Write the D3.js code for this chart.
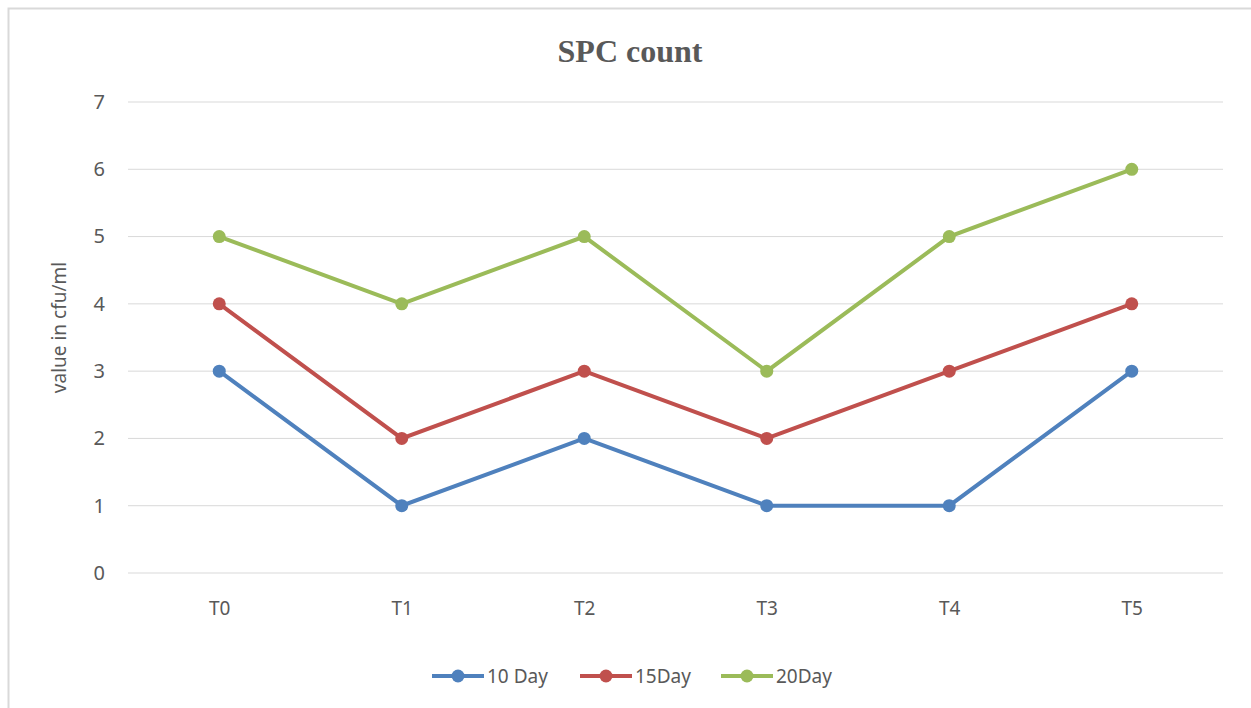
<!DOCTYPE html>
<html>
<head>
<meta charset="utf-8">
<script src="https://cdn.jsdelivr.net/npm/d3@7"></script>
<style>
  body { margin: 0; background: #fff; }
  text { font-family: "Noto Sans", "Open Sans", sans-serif; fill: #595959; }
</style>
</head>
<body>
<svg id="chart"></svg>
<script>
// chart data
const categories = ['T0', 'T1', 'T2', 'T3', 'T4', 'T5'];
const day10 = [3, 1, 2, 1, 1, 3];
const day15 = [4, 2, 3, 2, 3, 4];
const day20 = [5, 4, 5, 3, 5, 6];
const yTicks = [0, 1, 2, 3, 4, 5, 6, 7];
const seriesNames = ['10 Day', '15Day', '20Day'];
const colors = ['#4F81BD', '#C0504D', '#9BBB59'];

const series = [day10, day15, day20].map((values, i) => ({ name: seriesNames[i], values, color: colors[i] }));

const W = 1251, H = 708;
const margin = { top: 102, right: 28, bottom: 135, left: 128 };
const width = W - margin.left - margin.right;
const height = H - margin.top - margin.bottom;

const svg = d3.select('#chart').attr('width', W).attr('height', H);

// outer chart border
svg.append('rect')
    .attr('x', 8.5).attr('y', 8.5)
    .attr('width', W + 10).attr('height', H + 10)
    .attr('fill', 'none')
    .attr('stroke', '#d9d9d9')
    .attr('stroke-width', 2);

const g = svg.append('g').attr('transform', `translate(${margin.left},${margin.top})`);

const x = d3.scalePoint().domain(categories).range([0, width]).padding(0.5);
const y = d3.scaleLinear().domain([0, 7]).range([height, 0]);

// gridlines
g.selectAll('.grid')
    .data(yTicks)
    .enter().append('line')
    .attr('x1', 0).attr('x2', width)
    .attr('y1', d => y(d)).attr('y2', d => y(d))
    .attr('stroke', '#d9d9d9')
    .attr('stroke-width', 1);

const yAxis = g.append('g')
    .call(d3.axisLeft(y).tickValues(yTicks).tickFormat(d3.format('d')).tickSize(0).tickPadding(23));
yAxis.select('.domain').remove();
yAxis.selectAll('text').style('font-size', '20px').attr('fill', '#595959');

const xAxis = g.append('g')
    .attr('transform', `translate(0,${height})`)
    .call(d3.axisBottom(x).tickSize(0).tickPadding(29));
xAxis.select('.domain').remove();
xAxis.selectAll('text').style('font-size', '19px').attr('fill', '#595959');

// y axis title
svg.append('text')
    .attr('transform', `translate(66,${margin.top + height / 2 - 10}) rotate(-90)`)
    .attr('text-anchor', 'middle')
    .style('font-size', '19px')
    .text('value in cfu/ml');

// title
svg.append('text')
    .attr('x', 630).attr('y', 62)
    .attr('text-anchor', 'middle')
    .style('font-family', '"Liberation Serif", "DejaVu Serif", serif')
    .style('font-weight', 'bold')
    .style('font-size', '32px')
    .text('SPC count');

const line = d3.line()
    .x((d, i) => x(categories[i]))
    .y(d => y(d));

series.forEach(s => {
    g.append('path')
        .datum(s.values)
        .attr('d', line)
        .attr('fill', 'none')
        .attr('stroke', s.color)
        .attr('stroke-width', 4);

    g.selectAll(null)
        .data(s.values)
        .enter().append('circle')
        .attr('cx', (d, i) => x(categories[i]))
        .attr('cy', d => y(d))
        .attr('r', 6.5)
        .attr('fill', s.color);
});

// legend
const legendX = [432, 580, 721];
const legend = svg.append('g').attr('transform', 'translate(0,676)');
series.forEach((s, i) => {
    const lg = legend.append('g').attr('transform', `translate(${legendX[i]},0)`);
    lg.append('line')
        .attr('x1', 0).attr('x2', 52)
        .attr('stroke', s.color)
        .attr('stroke-width', 4);
    lg.append('circle')
        .attr('cx', 26).attr('r', 6.5)
        .attr('fill', s.color);
    lg.append('text')
        .attr('x', 55).attr('y', 7)
        .style('font-size', '19px')
        .text(s.name);
});
</script>
</body>
</html>
